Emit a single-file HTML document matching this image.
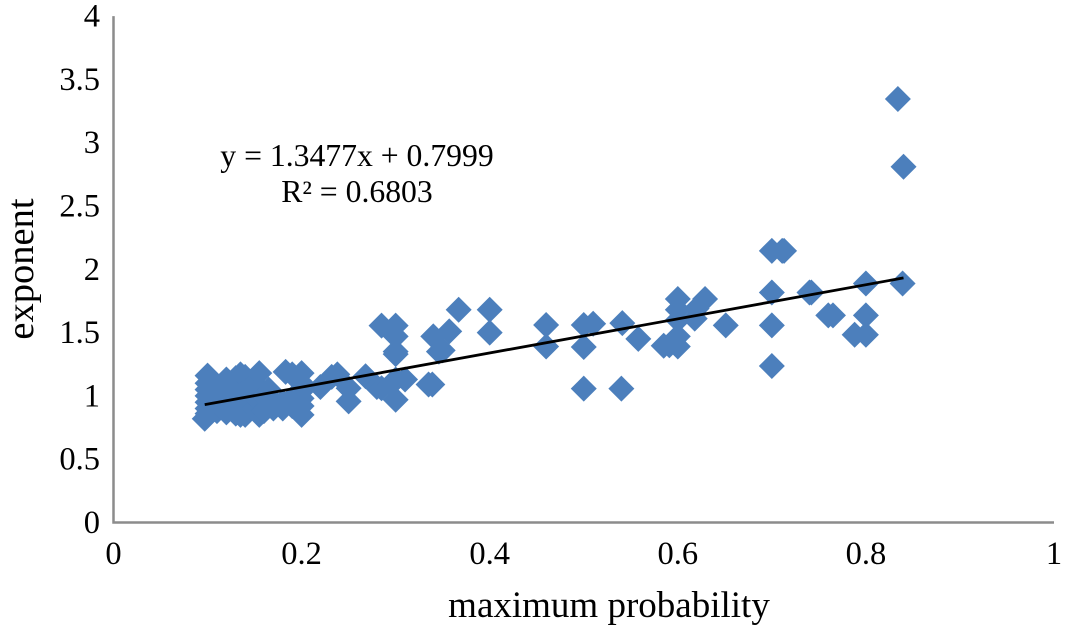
<!DOCTYPE html>
<html>
<head>
<meta charset="utf-8">
<title>Exponent vs maximum probability</title>
<style>
html,body{margin:0;padding:0;background:#fff;}
svg{display:block;}
text{font-family:"Liberation Serif",serif;fill:#000;}
</style>
</head>
<body>
<svg id="chart" width="1065" height="628" viewBox="0 0 1065 628" xmlns="http://www.w3.org/2000/svg">
<text x="357" y="166" font-size="31.7" text-anchor="middle">y = 1.3477x + 0.7999</text>
<text x="357" y="202" font-size="31.7" text-anchor="middle">R² = 0.6803</text>
<text x="609" y="617" font-size="37" text-anchor="middle">maximum probability</text>
<text transform="translate(33,269) rotate(-90)" font-size="38.5" text-anchor="middle">exponent</text>
</svg>
<script>
const xTicks = [0, 0.2, 0.4, 0.6, 0.8, 1];
const yTicks = [0, 0.5, 1, 1.5, 2, 2.5, 3, 3.5, 4];
const xValues = [
0.1,0.1,0.1,0.1,0.1,0.1,0.1,0.097,
0.11,0.11,0.11,0.12,0.12,0.12,0.12,0.12,
0.13,0.13,0.13,0.13,0.135,0.135,0.14,0.14,0.14,0.14,
0.15,0.15,0.155,0.165,0.155,0.155,0.16,0.16,0.165,
0.17,0.17,0.183,0.18,0.18,0.19,0.19,0.19,
0.2,0.2,0.2,0.2,0.2,0.2,
0.22,0.232,0.238,0.25,0.25,0.268,0.28,0.285,0.295,0.3,0.3,0.31,0.335,0.339,
0.285,0.3,0.3,0.3,0.3,0.34,0.346,0.35,0.357,0.367,0.4,0.4,
0.46,0.46,0.5,0.5,0.5,0.51,0.54,0.541,0.558,0.585,0.591,
0.6,0.6,0.6,0.6,0.6,0.629,0.62,0.618,0.651,
0.7,0.7,0.7,0.7,0.713,0.711,0.74,0.742,0.76,0.765,
0.8,0.8,0.8,0.788,0.839,0.834,0.84
];
const yValues = [
1.16,1.1,1.05,1,0.95,0.9,0.86,0.82,
1.05,0.97,0.88,1.13,1.05,1,0.93,0.87,
1.14,1.05,0.96,0.86,1.17,0.85,1.15,1.04,0.95,0.85,
1.1,0.9,1.18,1.05,0.96,0.85,1.0,0.88,0.92,
0.96,0.9,1.19,0.95,0.9,1.17,0.98,0.92,
1.18,1.1,1.04,0.98,0.92,0.85,
1.07,1.15,1.17,0.957,1.06,1.155,1.07,1.06,1.09,0.97,1.13,1.13,1.09,1.09,
1.555,1.555,1.47,1.35,1.33,1.47,1.35,1.36,1.51,1.68,1.68,1.5,
1.56,1.39,1.56,1.386,1.057,1.57,1.057,1.575,1.45,1.396,1.4,
1.765,1.68,1.6,1.47,1.39,1.765,1.69,1.61,1.557,
2.146,1.817,1.557,1.236,2.146,2.146,1.817,1.817,1.636,1.636,
1.888,1.636,1.483,1.483,1.888,3.345,2.81
];
const trendSlope = 1.3477;
const trendIntercept = 0.7999;

const svg = document.getElementById('chart');
const NS = 'http://www.w3.org/2000/svg';
const sx = v => 113.5 + 940.5 * v;
const sy = v => 522.5 - 126.6 * v;

const axes = document.createElementNS(NS, 'path');


axes.setAttribute('d', 'M' + sx(0) + ' ' + sy(4) + 'V' + sy(0) + 'H' + sx(1));
axes.setAttribute('fill', 'none');
axes.setAttribute('stroke', '#8c8c8c');
axes.setAttribute('stroke-width', '2.5');
svg.appendChild(axes);

xTicks.forEach(function (t) {
  const el = document.createElementNS(NS, 'text');
  
  
  el.setAttribute('x', sx(t));
  el.setAttribute('y', 564);
  el.setAttribute('font-size', '32.5');
  el.setAttribute('text-anchor', 'middle');
  el.textContent = String(t);
  svg.appendChild(el);
});
yTicks.forEach(function (t) {
  const el = document.createElementNS(NS, 'text');
  
  
  el.setAttribute('x', 100);
  el.setAttribute('y', sy(t) + 10.5);
  el.setAttribute('font-size', '32.5');
  el.setAttribute('text-anchor', 'end');
  el.textContent = String(t);
  svg.appendChild(el);
});

const R = 13;
xValues.forEach(function (xv, i) {
  const cx = sx(xv), cy = sy(yValues[i]);
  const p = document.createElementNS(NS, 'polygon');
  
  
  p.setAttribute('points', [cx, cy - R, cx + R, cy, cx, cy + R, cx - R, cy].join(' '));
  p.setAttribute('fill', '#4c7fbc');
  svg.appendChild(p);
});

const minX = Math.min.apply(null, xValues), maxX = Math.max.apply(null, xValues);
const line = document.createElementNS(NS, 'line');


line.setAttribute('x1', sx(minX));
line.setAttribute('y1', sy(trendSlope * minX + trendIntercept));
line.setAttribute('x2', sx(maxX));
line.setAttribute('y2', sy(trendSlope * maxX + trendIntercept));
line.setAttribute('stroke', '#000');
line.setAttribute('stroke-width', '2.8');
svg.appendChild(line);
</script>
</body>
</html>
